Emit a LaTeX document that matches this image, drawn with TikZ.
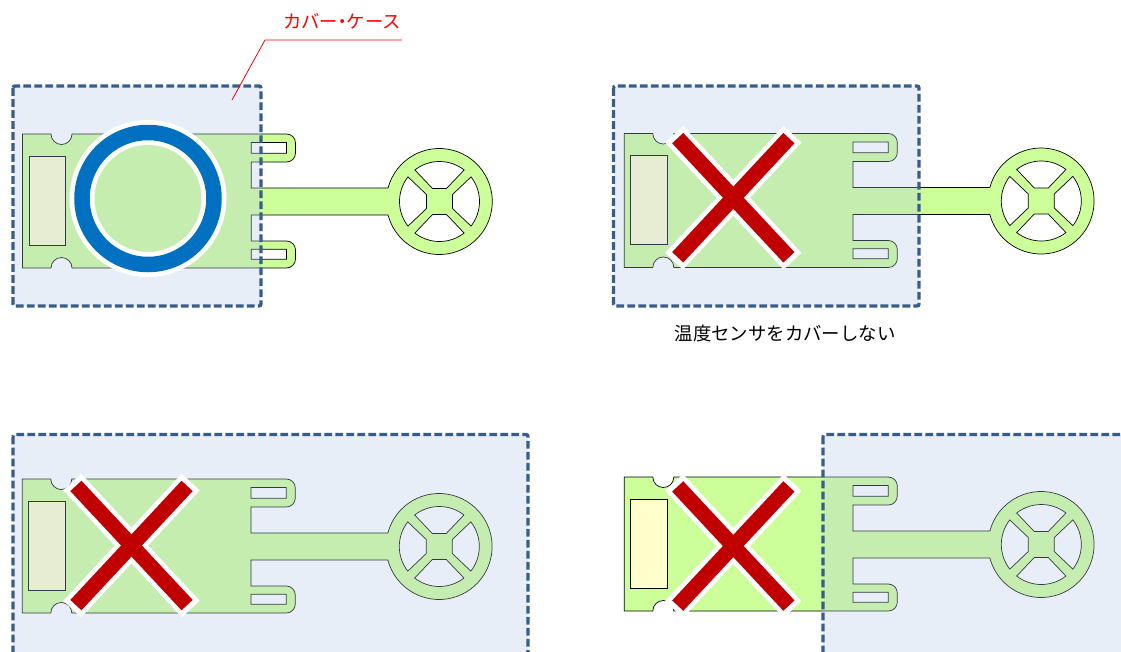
\documentclass[tikz,border=0pt]{standalone}
\usepackage{fontspec}
\setmainfont{Noto Sans CJK JP}
\definecolor{boardgreen}{HTML}{CCFF99}
\definecolor{sensoryellow}{HTML}{FFFFCC}
\definecolor{coverfill}{HTML}{B2C6E4}
\definecolor{coverline}{HTML}{385D8A}
\definecolor{okblue}{HTML}{0070C0}
\definecolor{ngred}{HTML}{C00000}
\tikzset{
  boardline/.style={draw=black, line width=0.7pt},
  cover/.style={fill=coverfill, fill opacity=0.3, draw=coverline, line width=3.3pt,
    dash pattern=on 7.8pt off 3.2pt, rounded corners=2pt},
  label/.style={font=\fontsize{18.4}{20}\selectfont, inner sep=0pt},
  board/.pic={
    \path[boardline, fill=boardgreen, even odd rule]
      (0,0) -- (28.5,0) arc[start angle=180, end angle=0, radius=10.5] -- (264,0)
      arc[start angle=-90, end angle=0, radius=9] -- (273,19)
      arc[start angle=0, end angle=90, radius=9] -- (228.7,28) -- (228.7,54) -- (365.55,54)
      arc[start angle=194.76, end angle=525.24, radius=53] -- (228.7,81) -- (228.7,107) -- (264,107)
      arc[start angle=-90, end angle=0, radius=9] -- (273,125)
      arc[start angle=0, end angle=90, radius=9] -- (49.5,134)
      arc[start angle=0, end angle=-180, radius=10.5] -- (0,134) -- cycle
      (228.7,8.5) rectangle (264,19.3)
      (228.7,115.3) rectangle (264,125.3)
      \foreach \r in {0,90,180,270} {
        ([shift={(417,67.5)}]\r-52:40) arc[start angle=\r-52, end angle=\r-128, radius=40]
        -- ([shift={(417,67.5)}]\r-118.3:14.8) -- ([shift={(417,67.5)}]\r-61.7:14.8) -- cycle
      };
    \path[boardline, fill=sensoryellow] (6.5,22.3) rectangle (43,111.3);
  },
  crossmark/.pic={
    \draw[white, line width=24.5pt] (-59.3,-63.5) -- (59.3,63.5);
    \draw[white, line width=24.5pt] (-59.3,63.5) -- (59.3,-63.5);
    \draw[ngred, line width=15.2pt] (-55.6,-59.6) -- (55.6,59.6);
    \draw[ngred, line width=15.2pt] (-55.6,59.6) -- (55.6,-59.6);
  }
}
\begin{document}
\begin{tikzpicture}[x=1pt, y=-1pt]
  \useasboundingbox (0,0) rectangle (1121,651);
  \clip (0,0) rectangle (1121,651);
  % top left
  \pic at (22.5,134) {board};
  \path[cover] (13,86) rectangle (261,306);
  \draw[white, line width=25pt] (148,198.5) circle[radius=66];
  \draw[okblue, line width=15.5pt] (148,198.5) circle[radius=66];
  \node[label, text=red] (covername) at (342,21) {カバー\kern-.27em・\kern-.27em ケース};
  \coordinate (leadend) at (402,40);
  \coordinate (leadbend) at (265,40);
  \coordinate (leadtip) at (232,100);
  \draw[red, line width=0.8pt] (leadend) -- (leadbend) -- (leadtip);
  % top right
  \pic at (624.3,133.5) {board};
  \path[cover] (613.5,86) rectangle (919,306);
  \pic at (733.3,197.7) {crossmark};
  \node[label] (nocover) at (785,334) {温度センサをカバーしない};
  % bottom left
  \pic at (22.3,479) {board};
  \path[cover] (13,434.5) rectangle (528,670);
  \pic at (131.5,545.5) {crossmark};
  % bottom right
  \pic at (624.3,477) {board};
  \path[cover] (823,434.5) rectangle (1140,670);
  \pic at (733.3,546) {crossmark};
\end{tikzpicture}
\end{document}
